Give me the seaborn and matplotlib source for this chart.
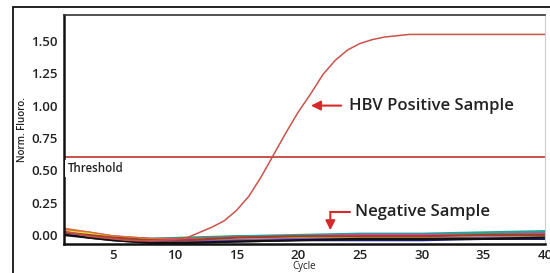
import seaborn as sns
import matplotlib.pyplot as plt
from matplotlib.patches import Rectangle
import pandas as pd

# amplification curves (cycle vs normalised fluorescence)
cycles = list(range(1, 41))
hbv_positive = [0.03, 0.01, -0.01, -0.02, -0.03, -0.04, -0.045, -0.045, -0.04, -0.035,
                -0.02, 0.02, 0.06, 0.11, 0.19, 0.30, 0.45, 0.62, 0.79, 0.95,
                1.09, 1.24, 1.35, 1.43, 1.48, 1.51, 1.53, 1.54, 1.55, 1.55,
                1.55, 1.55, 1.55, 1.55, 1.55, 1.55, 1.55, 1.55, 1.55, 1.55]

# negative samples, read at a coarser set of cycles
neg_cycles = [1, 3, 5, 8, 11, 15, 20, 25, 30, 35, 40]
neg_blue = [0.02, 0.0, -0.03, -0.05, -0.05, -0.03, -0.02, -0.02, -0.02, -0.02, -0.01]
neg_navy = [0.01, -0.02, -0.04, -0.06, -0.06, -0.05, -0.04, -0.04, -0.04, -0.03, -0.03]
neg_green = [0.02, 0.0, -0.02, -0.03, -0.02, -0.01, -0.01, 0.0, 0.0, 0.01, 0.02]
neg_teal = [0.03, 0.01, -0.02, -0.03, -0.03, -0.01, 0.0, 0.01, 0.01, 0.02, 0.03]
neg_magenta = [0.04, 0.02, -0.01, -0.03, -0.03, -0.02, -0.01, 0.0, 0.0, 0.0, 0.01]
neg_orange = [0.05, 0.02, -0.01, -0.03, -0.04, -0.02, -0.02, -0.01, -0.01, 0.0, 0.0]
neg_yellow = [0.03, 0.01, -0.02, -0.04, -0.04, -0.03, -0.02, -0.02, -0.02, -0.01, -0.01]
neg_purple = [0.02, -0.01, -0.03, -0.05, -0.05, -0.04, -0.03, -0.03, -0.03, -0.02, -0.02]
neg_black = [0.0, -0.02, -0.04, -0.06, -0.06, -0.05, -0.04, -0.03, -0.03, -0.03, -0.02]
neg_brown = [0.02, 0.0, -0.02, -0.04, -0.04, -0.02, -0.01, -0.01, -0.01, 0.0, 0.0]

negatives = {"#2b4fd6": neg_blue, "#1a1f6b": neg_navy, "#2aa84a": neg_green,
             "#2aa39a": neg_teal, "#d43fb0": neg_magenta, "#d8703a": neg_orange,
             "#e8df3a": neg_yellow, "#8a5cc8": neg_purple, "#111111": neg_black,
             "#a0402a": neg_brown}

threshold = 0.6
yticks = [0.0, 0.25, 0.5, 0.75, 1.0, 1.25, 1.5]
xticks = [5, 10, 15, 20, 25, 30, 35, 40]

sns.set_style('white')
plt.rcParams['font.family'] = ['Open Sans', 'DejaVu Sans']

fig = plt.figure(figsize=(5.5, 2.73), dpi=100)
ax = fig.add_axes([0.116, 0.106, 0.875, 0.839])

for col, vals in negatives.items():
    sns.lineplot(x=neg_cycles, y=vals, color=col, lw=1.6, ax=ax)

pos = pd.DataFrame({'cycle': cycles, 'fluor': hbv_positive})
sns.lineplot(data=pos, x='cycle', y='fluor', color='#c9534a', lw=1.1, ax=ax)
ax.axhline(threshold, color='#c9534a', lw=1.4)

ax.set_xlim(1, 40)
ax.set_ylim(-0.07, 1.70)
ax.set_xticks(xticks)
ax.set_yticks(yticks)
ax.set_xticklabels([str(x) for x in xticks], fontsize=9.5, fontweight='semibold', color='#222222')
ax.set_yticklabels([f"{y:.2f}" for y in yticks], fontsize=9.5, fontweight='semibold', color='#222222')
ax.tick_params(axis='both', length=2.5, width=0.8, color='#888888', pad=2)
ax.tick_params(axis='x', pad=1)
ax.set_xlabel('Cycle', fontsize=7, labelpad=-1, color='#222222')
ax.set_ylabel('Norm. Fluoro.', fontsize=7, fontweight='semibold', labelpad=2, color='#222222')

for side in ['left', 'bottom']:
    ax.spines[side].set_color('#111111')
    ax.spines[side].set_linewidth(1.8)
ax.spines['top'].set_color('#333333')
ax.spines['top'].set_linewidth(1.2)
ax.spines['right'].set_color('#cccccc')
ax.spines['right'].set_linewidth(0.8)

ax.text(1.3, 0.565, 'Threshold', fontsize=8.3, fontweight='semibold', color='#222222',
        va='top', ha='left', bbox=dict(facecolor='white', edgecolor='none', pad=1.5))

ax.annotate('', xy=(20.8, 1.0), xytext=(23.7, 1.0),
            arrowprops=dict(arrowstyle='-|>', color='#d42a2a', lw=1.5, mutation_scale=14))
ax.text(24.1, 1.0, 'HBV Positive Sample', fontsize=12, fontweight='semibold',
        color='#222222', va='center', ha='left')

ax.plot([22.6, 24.2], [0.18, 0.18], color='#d42a2a', lw=1.5)
ax.annotate('', xy=(22.6, 0.015), xytext=(22.6, 0.185),
            arrowprops=dict(arrowstyle='-|>', color='#d42a2a', lw=1.5, mutation_scale=14))
ax.text(24.6, 0.18, 'Negative Sample', fontsize=12, fontweight='semibold',
        color='#222222', va='center', ha='left')

# outer frame around the figure panel
fig.patches.append(Rectangle((13 / 550, -0.1), 1.2, 1 - 7 / 273 + 0.1, transform=fig.transFigure,
                             fill=False, edgecolor='#111111', lw=1.3))

fig.savefig('out.png', dpi=100)
